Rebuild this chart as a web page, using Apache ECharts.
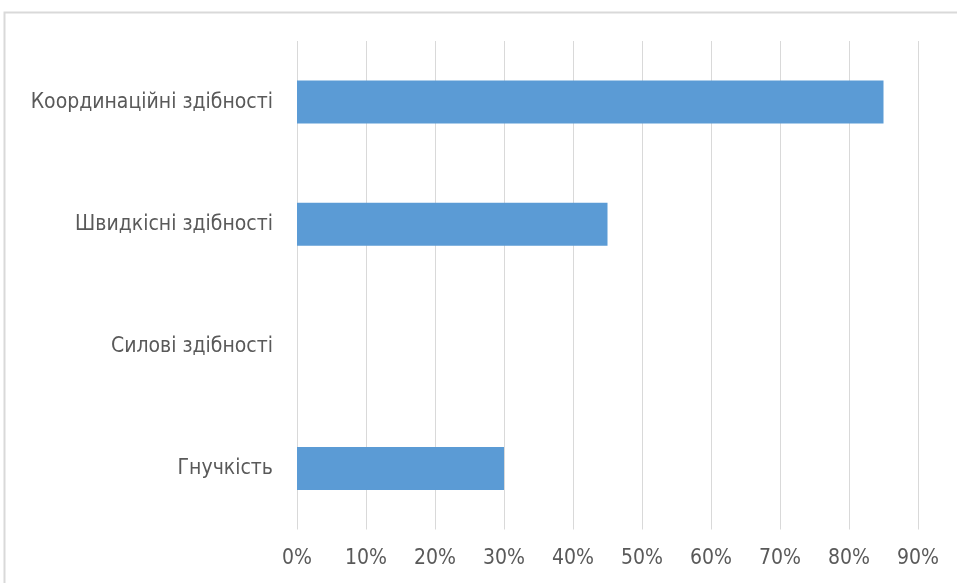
<!DOCTYPE html>
<html>
<head>
<meta charset="utf-8">
<script src="https://cdn.jsdelivr.net/npm/echarts@6/dist/echarts.min.js"></script>
<style>
  html, body { margin: 0; padding: 0; background: #fff; }
  #chart { width: 957px; height: 583px; }
</style>
</head>
<body>
<div id="chart"></div>
<script>
// Categories listed bottom-to-top (category axis on y runs upward)
const categories = ['Гнучкість', 'Силові здібності', 'Швидкісні здібності', 'Координаційні здібності'];
const values = [30, 0, 45, 85];
const xTicks = [0, 10, 20, 30, 40, 50, 60, 70, 80, 90];

const chart = echarts.init(document.getElementById('chart'), null, { renderer: 'canvas' });
const font = '"DejaVu Sans Condensed", "Liberation Sans", sans-serif';

chart.setOption({
  animation: false,
  backgroundColor: '#ffffff',
  graphic: [{
    type: 'rect',
    shape: { x: 4.5, y: 12.5, width: 1000, height: 1000 },
    style: { fill: 'none', stroke: '#d9d9d9', lineWidth: 2 },
    silent: true
  }],
  grid: { left: 297, right: 39, top: 41, bottom: 53.5, containLabel: false },
  xAxis: {
    type: 'value',
    min: xTicks[0],
    max: xTicks[xTicks.length - 1],
    interval: 10,
    axisLine: { show: false },
    axisTick: { show: false },
    splitLine: { show: true, lineStyle: { color: '#d9d9d9', width: 1 } },
    axisLabel: {
      formatter: v => v + '%',
      color: '#595959',
      fontFamily: font,
      fontSize: 21,
      margin: 19
    }
  },
  yAxis: {
    type: 'category',
    data: categories,
    axisLine: { show: false },
    axisTick: { show: false },
    splitLine: { show: false },
    axisLabel: {
      color: '#595959',
      fontFamily: font,
      fontSize: 21,
      margin: 24
    }
  },
  series: [{
    type: 'bar',
    data: values,
    barCategoryGap: '64.8%',
    itemStyle: { color: '#5b9bd5' }
  }]
});
</script>
</body>
</html>
